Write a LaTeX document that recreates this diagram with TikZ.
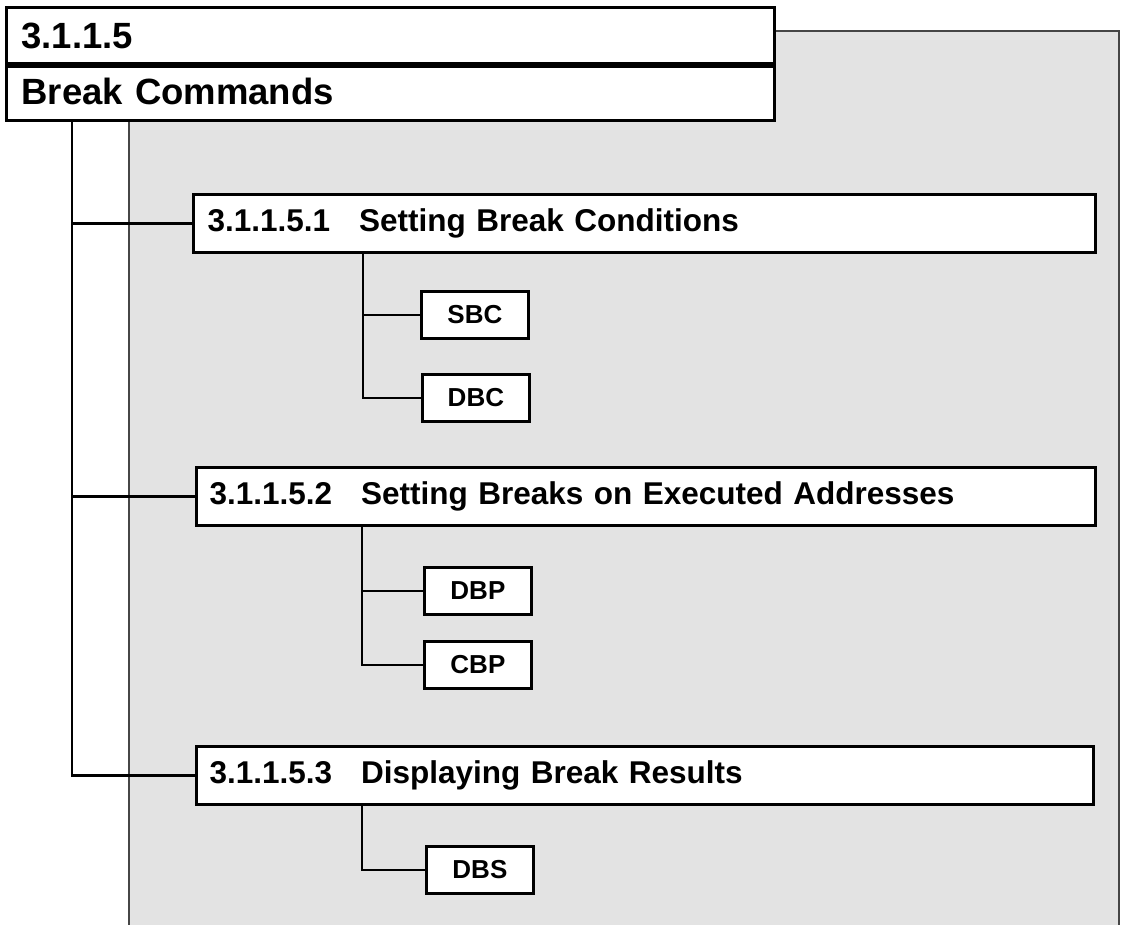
\documentclass[tikz,border=0pt]{standalone}
\usepackage{fontspec}
\setmainfont{Liberation Sans}
\definecolor{panelfill}{RGB}{227,227,227}
\definecolor{panelline}{RGB}{70,70,70}
\tikzset{
  titlerow/.style={draw=black, line width=3pt, fill=white, anchor=north west, inner sep=0pt,
    minimum width=768pt, minimum height=56.5pt, text width=768pt, align=left,
    font=\fontsize{36.5}{40}\selectfont\bfseries},
  secbox/.style={draw=black, line width=3pt, fill=white, anchor=north west, inner sep=0pt,
    minimum height=58pt, text width=#1, minimum width=#1, align=left,
    font=\fontsize{31.5}{36}\selectfont\bfseries},
  leafbox/.style={draw=black, line width=2.8pt, fill=white, anchor=north west, inner sep=0pt,
    minimum width=107pt, minimum height=47pt,
    font=\fontsize{26}{30}\selectfont\bfseries},
  link/.style={draw=black, line width=2.6pt},
}
\begin{document}
\begin{tikzpicture}[x=1pt,y=-1pt]
\useasboundingbox (0,0) rectangle (1121,924);
% grey panel
\fill[panelfill] (129,31) rectangle (1119,930);
\draw[panelline, line width=2pt] (129,930) -- (129,31) -- (1119,31) -- (1119,930);

% title
\node[titlerow] (t1) at (5,6) {\hspace{15pt}3.1.1.5};
\node[titlerow] (t2) at (5,62) {\hspace{15pt}Break Commands};
\draw[line width=4.5pt] (t1.south west) -- (t1.south east);

% section boxes
\node[secbox=902pt] (b1) at (192,193) {\hspace{14pt}3.1.1.5.1\hspace{29pt}Setting Break Conditions};
\node[secbox=899pt] (b2) at (195,466) {\hspace{13pt}3.1.1.5.2\hspace{29pt}Setting Breaks on Executed Addresses};
\node[secbox=897pt] (b3) at (195,745) {\hspace{13pt}3.1.1.5.3\hspace{29pt}Displaying Break Results};

% leaves
\node[leafbox] (sbc) at (420,290) {SBC};
\node[leafbox] (dbc) at (421,373) {DBC};
\node[leafbox] (dbp) at (423,566) {DBP};
\node[leafbox] (cbp) at (423,640) {CBP};
\node[leafbox] (dbs) at (425,845) {DBS};

% main trunk
\coordinate (trunk) at (72,119);
\draw[link] (trunk) |- (b3.west);
\draw[link] (trunk |- b1.west) -- (b1.west);
\draw[link] (trunk |- b2.west) -- (b2.west);

% sub trunks
\coordinate (s1) at (363,251);
\draw[link] (s1) |- (dbc.west);
\draw[link] (s1 |- sbc.west) -- (sbc.west);

\coordinate (s2) at (362,524);
\draw[link] (s2) |- (cbp.west);
\draw[link] (s2 |- dbp.west) -- (dbp.west);

\coordinate (s3) at (362,806);
\draw[link] (s3) |- (dbs.west);
\end{tikzpicture}
\end{document}
